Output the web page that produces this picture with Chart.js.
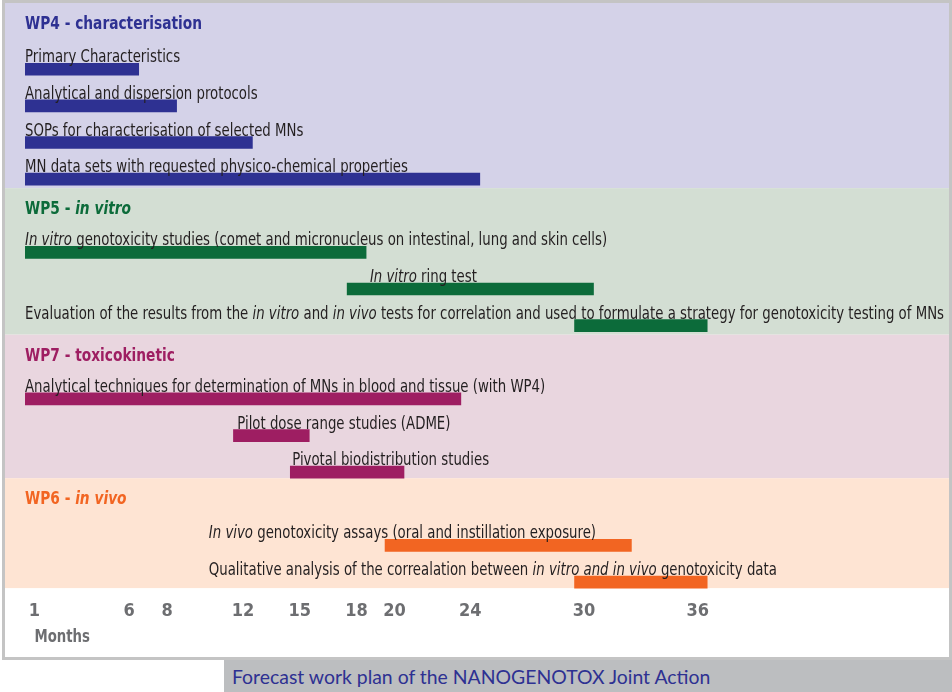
<!DOCTYPE html>
<html>
<head>
<meta charset="utf-8">
<script src="https://cdn.jsdelivr.net/npm/chart.js@4.4.0/dist/chart.umd.min.js"></script>
<style>
  body { margin: 0; background: #fff; }
  #box { position: absolute; left: 2px; top: 0; width: 944px; height: 654px; border: 3px solid #c4c4c4; }
  #box canvas { display: block; }
  #caption {
    position: absolute; left: 224px; top: 660px; width: 728px; height: 32px;
    background: #bcbec0; color: #2e3192; font: 19.4px Lato, sans-serif;
    line-height: 33px; padding-left: 8px; box-sizing: border-box; white-space: nowrap;
  }
</style>
</head>
<body>
<div id="box"><canvas id="chart" width="944" height="654"></canvas></div>
<div id="caption">Forecast work plan of the NANOGENOTOX Joint Action</div>
<script>
// work packages, in the order they appear; *...* marks italic text
const groupTitles = ["WP4 - characterisation", "WP5 - *in vitro*", "WP7 - toxicokinetic", "WP6 - *in vivo*"];
const groupColors = ["#2e3192", "#0c6b3a", "#9e1e62", "#f26522"];
const bandColors = ["#d4d2e8", "#d3ded3", "#e9d6df", "#fee4d3"];
const bandGap = [3, 3, 0, 0];

const tasks = [
  "Primary Characteristics",
  "Analytical and dispersion protocols",
  "SOPs for characterisation of selected MNs",
  "MN data sets with requested physico-chemical properties",
  "*In vitro* genotoxicity studies (comet and micronucleus on intestinal, lung and skin cells)",
  "*In vitro* ring test",
  "Evaluation of the results from the *in vitro* and *in vivo* tests for correlation and used to formulate a strategy for genotoxicity testing of MNs",
  "Analytical techniques for determination of MNs in blood and tissue (with WP4)",
  "Pilot dose range studies (ADME)",
  "Pivotal biodistribution studies",
  "*In vivo* genotoxicity assays (oral and instillation exposure)",
  "Qualitative analysis of the correalation between *in vitro and in vivo* genotoxicity data"
];
const taskGroup  = [0, 0, 0, 0, 1, 1, 1, 2, 2, 2, 3, 3];
const startMonth = [1, 1, 1, 1, 1, 18, 30, 1, 12, 15, 20, 30];
const endMonth   = [6, 8, 12, 24, 18, 30, 36, 23, 15, 20, 32, 36];
// month where the text of each task begins
const labelAt    = [0.5, 0.5, 0.5, 0.5, 0.5, 18.7, 0.5, 0.5, 11.7, 14.6, 10.2, 10.2];
const monthTicks = [1, 6, 8, 12, 15, 18, 20, 24, 30, 36];

// one category row per heading and per task
const rowNames = [], rowData = [], rowColor = [], rowTask = [], groupRows = [];
groupTitles.forEach((title, g) => {
  const first = rowNames.length;
  rowNames.push(title); rowData.push(null); rowColor.push(groupColors[g]); rowTask.push(-1);
  tasks.forEach((t, k) => {
    if (taskGroup[k] !== g) return;
    rowNames.push(t);
    rowData.push([startMonth[k] - 0.5, endMonth[k] + 0.5]);
    rowColor.push(groupColors[g]);
    rowTask.push(k);
  });
  groupRows.push({ first, last: rowNames.length - 1 });
});

const FONT = "'Liberation Sans Narrow', 'Arial Narrow', 'DejaVu Sans Condensed', sans-serif";

// text squeezed horizontally to look like the narrow face of the original
function drawRich(ctx, text, x, y, size, bold, color, squeeze) {
  ctx.save();
  ctx.translate(x, y);
  ctx.scale(squeeze, 1);
  ctx.fillStyle = color;
  ctx.textBaseline = "alphabetic";
  ctx.textAlign = "left";
  let cx = 0;
  text.split("*").forEach((part, i) => {
    ctx.font = (i % 2 ? "italic " : "") + (bold ? "bold " : "") + size + "px " + FONT;
    ctx.fillText(part, cx, 0);
    cx += ctx.measureText(part).width;
  });
  ctx.restore();
}

const bands = {
  id: "bands",
  beforeDraw(chart) {
    const { ctx, scales: { y } } = chart;
    let top = 0;
    groupRows.forEach((r, g) => {
      const bottom = y.getPixelForValue(r.last) + 6 + bandGap[g];
      ctx.fillStyle = bandColors[g];
      ctx.fillRect(0, top, chart.width, bottom - top);
      r.top = top;
      top = bottom;
    });
  }
};

const labels = {
  id: "labels",
  afterDatasetsDraw(chart) {
    const { ctx, scales: { x, y } } = chart;
    groupRows.forEach((r, g) => {
      drawRich(ctx, groupTitles[g], x.getPixelForValue(0.5), r.top + 26, 18, true, groupColors[g], 0.85);
    });
    rowTask.forEach((k, i) => {
      if (k < 0) return;
      drawRich(ctx, tasks[k], x.getPixelForValue(labelAt[k]), y.getPixelForValue(i) - 7, 17, false, "#231f20", 0.87);
    });
    drawRich(ctx, "Months", x.getPixelForValue(1), chart.height - 15, 18, true, "#6d6e71", 0.82);
  }
};

new Chart(document.getElementById("chart"), {
  type: "bar",
  data: {
    labels: rowNames,
    datasets: [{
      data: rowData,
      backgroundColor: rowColor,
      barThickness: 12,
      borderWidth: 0,
      borderSkipped: false
    }]
  },
  options: {
    indexAxis: "y",
    responsive: false,
    animation: false,
    layout: { padding: { left: 20, top: 11.3, right: 0, bottom: 0 } },
    plugins: { legend: { display: false }, tooltip: { enabled: false } },
    scales: {
      y: { display: false },
      x: {
        type: "linear",
        min: 0.5,
        max: 49.26,
        grid: { display: false, drawTicks: false },
        border: { display: false },
        afterBuildTicks: (scale) => { scale.ticks = monthTicks.map(m => ({ value: m })); },
        afterFit: (scale) => { scale.height = 56.6; },
        ticks: {
          autoSkip: false,
          maxRotation: 0,
          padding: 0,
          color: "#6d6e71",
          font: { family: FONT, size: 18, weight: "bold" },
          callback: (v) => v
        }
      }
    }
  },
  plugins: [bands, labels]
});
</script>
</body>
</html>
